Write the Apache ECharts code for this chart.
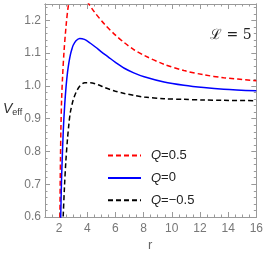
<!DOCTYPE html>
<html><head><meta charset="utf-8">
<script src="https://cdn.jsdelivr.net/npm/echarts@6/dist/echarts.min.js"></script>
<style>html,body{margin:0;padding:0;background:#fff}#c{width:266px;height:255px}</style>
</head><body><div id="c"></div>
<script>
// data: [r, V_eff]
const qPos = [[2.04,0.50],[2.06,0.60],[2.08,0.71],[2.1,0.78],[2.13,0.87],[2.18,0.96],[2.25,1.03],[2.35,1.105],[2.5,1.185],[2.64,1.24],[2.8,1.274],[3.0,1.290],[3.2,1.294],[3.46,1.290],[3.8,1.270],[4.05,1.254],[4.5,1.226],[5.23,1.188],[6.0,1.155],[6.63,1.132],[7.3,1.111],[8.04,1.093],[9.45,1.066],[10.86,1.047],[12.27,1.034],[13.68,1.025],[16,1.016]];
const qZero = [[2.05,0.41],[2.1,0.56],[2.15,0.67],[2.2,0.75],[2.3,0.865],[2.4,0.943],[2.5,1.0],[2.6,1.042],[2.7,1.072],[2.8,1.095],[2.9,1.111],[3.0,1.124],[3.2,1.138],[3.46,1.145],[3.8,1.142],[4.2,1.131],[4.6,1.118],[5.0,1.104],[5.5,1.088],[6.0,1.072],[6.63,1.054],[7.3,1.040],[8.04,1.028],[9.45,1.012],[10.86,1.002],[12.27,0.995],[13.68,0.990],[16,0.985]];
const qNeg = [[2.2,0.48],[2.25,0.55],[2.29,0.60],[2.38,0.69],[2.48,0.77],[2.6,0.84],[2.7,0.885],[2.8,0.92],[3.0,0.957],[3.2,0.980],[3.46,0.999],[3.82,1.010],[4.2,1.010],[4.87,1.002],[5.23,0.995],[6.0,0.984],[6.63,0.977],[7.3,0.971],[8.04,0.966],[9.45,0.961],[10.86,0.959],[12.27,0.957],[13.68,0.956],[16,0.955]];
const xTicks = [2,4,6,8,10,12,14,16];
const yTicks = [0.6,0.7,0.8,0.9,1.0,1.1,1.2];
const legendNames = ['Q=0.5','Q=0','Q=\u22120.5'];

const xMinor = []; for (let i = 2; i <= 31; i++) xMinor.push(i/2);
const yMinor = []; for (let i = 30; i <= 62; i++) yMinor.push(i/50);
const frame = '#9a9a9a';
const lab = {color:'#777', fontSize:12, fontFamily:'Liberation Sans, Arial, sans-serif'};
function xa(pos, ticks, len, labels){
  return {type:'value', min:1, max:16, position:pos, gridIndex:0,
    axisLine:{show:true, onZero:false, lineStyle:{color:frame, width:1}},
    axisTick:{show:true, inside:true, length:len, customValues:ticks, lineStyle:{color:frame}},
    axisLabel:labels?Object.assign({show:true, customValues:ticks, margin:6, formatter:v=>String(v)}, lab):{show:false},
    splitLine:{show:false}};
}
function ya(pos, ticks, len, labels){
  return {type:'value', min:0.6, max:1.25, position:pos, gridIndex:0,
    axisLine:{show:true, onZero:false, lineStyle:{color:frame, width:1}},
    axisTick:{show:true, inside:true, length:len, customValues:ticks, lineStyle:{color:frame}},
    axisLabel:labels?Object.assign({show:true, customValues:ticks, margin:4, formatter:v=>v.toFixed(1)}, lab):{show:false},
    splitLine:{show:false}};
}
const chart = echarts.init(document.getElementById('c'), null, {renderer:'canvas'});
function ser(name, data, color, type){
  return {name, type:'line', data, xAxisIndex:0, yAxisIndex:0, symbol:'none', smooth:0.3, clip:true,
    lineStyle:{color, width:1.5, type}, itemStyle:{color}};
}
chart.setOption({
  animation:false,
  grid:{left:45, right:8, top:4, bottom:38},
  xAxis:[xa('bottom', xTicks, 5, true), xa('bottom', xMinor, 2.5, false), xa('top', xTicks, 5, false), xa('top', xMinor, 2.5, false)],
  yAxis:[ya('left', yTicks, 5, true), ya('left', yMinor, 2.5, false), ya('right', yTicks, 5, false), ya('right', yMinor, 2.5, false)],
  legend:{orient:'vertical', left:107, top:149, padding:0, itemWidth:33, itemHeight:14, itemGap:9.4,
    data:legendNames, itemStyle:{opacity:0},
    formatter:n=>'{i|Q}{t|'+n.slice(1)+'}',
    textStyle:{padding:[0,0,0,5], rich:{i:{fontStyle:'italic', fontSize:13, fontFamily:'Liberation Sans, Arial, sans-serif', color:'#222'}, t:{fontSize:13, fontFamily:'Liberation Sans, Arial, sans-serif', color:'#222'}}}},
  series:[ser(legendNames[0], qPos, '#ff0000', [5,3]), ser(legendNames[1], qZero, '#0000ff', 'solid'), ser(legendNames[2], qNeg, '#000000', [5,3])],
  graphic:[
    {type:'text', left:3, top:102, style:{text:'{v|V}{s|eff}', rich:{v:{fontStyle:'italic', fontSize:14, fontFamily:'Liberation Sans, Arial, sans-serif', fill:'#333'}, s:{fontSize:9, fontFamily:'Liberation Sans, Arial, sans-serif', fill:'#333', padding:[8,0,0,0]}}}},
    {type:'text', left:148, top:239, style:{text:'r', fontSize:13, fontFamily:'Liberation Sans, Arial, sans-serif', fill:'#666'}},
    {type:'text', left:210, top:28, style:{text:'\u2112 = 5', fontSize:14, fontFamily:'DejaVu Serif, serif', fill:'#222'}}
  ]
});
</script></body></html>
